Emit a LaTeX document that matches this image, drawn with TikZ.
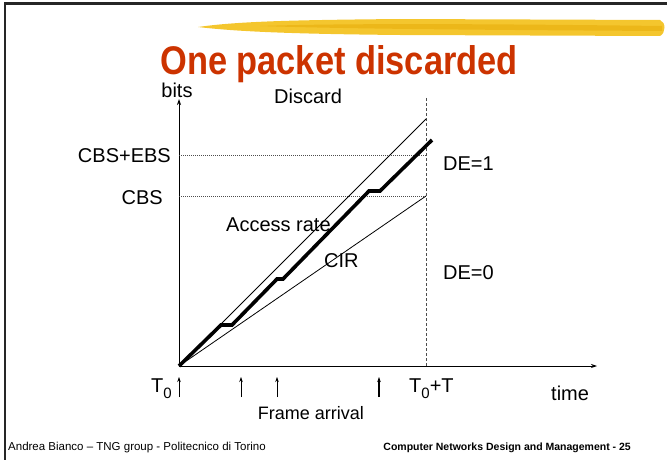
\documentclass[tikz,border=0pt]{standalone}
\usepackage{fontspec}
\setmainfont{Liberation Sans}
\usepackage{xcolor}
\definecolor{titlered}{HTML}{CC3300}
\definecolor{brushgold}{HTML}{F4C62E}
\definecolor{brushdeep}{HTML}{E8AE0C}
\definecolor{framegray}{HTML}{262626}
\definecolor{guidegray}{HTML}{4D4D4D}
\usepackage{tikz}
\usetikzlibrary{arrows.meta,positioning,calc}
\newcommand{\lowidx}[1]{\raisebox{-6pt}{\fontsize{15}{15}\selectfont #1}}

\begin{document}
\begin{tikzpicture}[x=1pt, y=-1pt,
    lbl/.style={font=\fontsize{20}{24}\selectfont, inner sep=0pt},
    foot/.style={font=\fontsize{11.5}{13}\selectfont, inner sep=0pt},
    rateline/.style={line width=0.8pt},
    bitline/.style={line width=3.6pt},
    guide/.style={draw=guidegray, line width=0.6pt, dash pattern=on 1pt off 1pt},
    limit/.style={draw=guidegray, line width=0.8pt, dash pattern=on 3pt off 2pt},
    axis/.style={line width=0.8pt, -{Stealth[length=6pt,width=4pt]}},
    arrival/.style={line width=0.6pt, -{Stealth[length=5pt,width=3.5pt]}}
  ]
    \useasboundingbox (0,0) rectangle (667,460);
    % slide frame and brush stroke
    \draw[framegray, line width=2.5pt] (5,460) -- (5,3.5) -- (667,3.5);
    \fill[brushgold] (198,27) .. controls (240,21) and (300,20) .. (400,19) -- (660,20)
      .. controls (666,22) and (666,33) .. (660,36)
      -- (400,35) .. controls (300,34) and (240,32) .. (198,27) -- cycle;
    \fill[brushdeep, opacity=0.6] (260,26) .. controls (350,23) and (500,24) .. (662,26) -- (662,31)
      .. controls (500,30) and (350,29) .. (260,26) -- cycle;
    \node[font=\bfseries\fontsize{40}{44}\selectfont, text=titlered, anchor=base, inner sep=0pt] (title)
      at (339,75) {\scalebox{0.86}[1]{One packet discarded}};

    % axes
    \coordinate (O) at (179,366);
    \coordinate (ytop) at (179,99);
    \coordinate (xend) at (597,366);
    \draw[axis] (O) -- (ytop);
    \draw[axis] (O) -- (xend);

    % burst levels and interval end
    \coordinate (ebs) at (179,155);
    \coordinate (ebsR) at (426,155);
    \coordinate (cbs) at (179,196);
    \coordinate (cbsR) at (426,196);
    \coordinate (Ttop) at (426,98);
    \coordinate (Tbot) at (426,366);
    \draw[guide] (ebs) -- (ebsR);
    \draw[guide] (cbs) -- (cbsR);
    \draw[limit] (Ttop) -- (Tbot);

    % access rate, CIR and sent bits
    \coordinate (acc) at (426,119);
    \draw[rateline] (O) -- (acc);
    \draw[rateline] (O) -- (cbsR);
    \draw[bitline] (O) -- ++(42,-41) -- ++(11,0) -- ++(45,-46) -- ++(6,0)
      -- ++(86,-88) -- ++(11,0) -- ++(52,-51);

    % frame arrivals
    \foreach \x/\nm in {179/a0, 241/a1, 277/a2} {
      \coordinate (\nm b) at (\x,397);
      \coordinate (\nm t) at (\x,377);
      \draw[arrival] (\nm b) -- (\nm t);
    }
    \coordinate (a3b) at (379,397);
    \coordinate (a3t) at (379,377);
    \draw[arrival, line width=2pt] (a3b) -- (a3t);

    % labels
    \node[lbl, anchor=base] (bits) at (177,98) {bits};
    \node[lbl, anchor=base west] (discard) at (274,103) {Discard};
    \node[lbl, anchor=base east] (cbsebs) at (171,162) {CBS+EBS};
    \node[lbl, anchor=base east] (cbslbl) at (163,204) {CBS};
    \node[lbl, anchor=base west] (de1) at (443,170) {DE=1};
    \node[lbl, anchor=base west] (de0) at (443,279) {DE=0};
    \node[lbl, anchor=base west] (access) at (226,231) {Access rate};
    \node[lbl, anchor=base west] (cir) at (324,267) {CIR};
    \node[lbl, anchor=base west] (t0) at (151,392) {T\lowidx{0}};
    \node[lbl, anchor=base west] (t0t) at (409,392) {T\lowidx{0}+T};
    \node[lbl, anchor=base west] (time) at (551,400) {time};
    \node[lbl, anchor=base, font=\fontsize{18}{22}\selectfont] (arrival) at (311,419) {Frame arrival};

    % footer
    \node[foot, anchor=base west] (author) at (8,450) {Andrea Bianco -- TNG group - Politecnico di Torino};
    \node[foot, anchor=base east, font=\bfseries\fontsize{10.5}{13}\selectfont] (course) at (631,450)
      {Computer Networks Design and Management - 25};
\end{tikzpicture}
\end{document}
